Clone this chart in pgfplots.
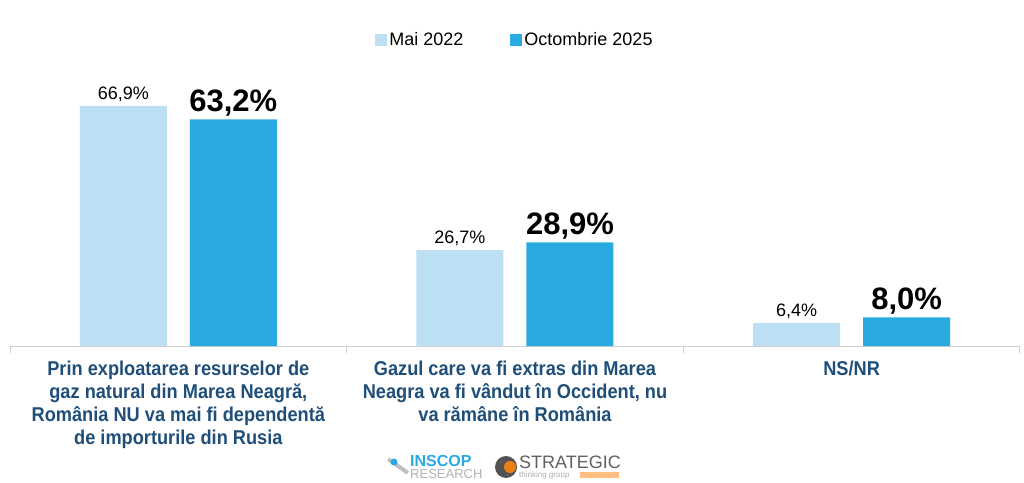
\documentclass[border=0pt]{standalone}
\usepackage{pgfplots}
\pgfplotsset{compat=1.18}
\usepackage{fontspec}
\setmainfont{Liberation Sans}
\newfontfamily\narrowbf[FakeStretch=0.91]{Liberation Sans Bold}
\definecolor{lightbar}{HTML}{BDDFF3}
\definecolor{darkbar}{HTML}{29ABE2}
\definecolor{labblue}{HTML}{1F4E79}
\definecolor{axgray}{HTML}{D0D0D0}
\tikzset{catlabel/.style={anchor=north, align=center, text=labblue, yshift=-11pt,
    font=\narrowbf\fontsize{20}{23}\selectfont}}
\begin{document}
\begin{tikzpicture}
\path[use as bounding box] (0,0) rectangle (1024pt,482pt);
\begin{axis}[
  at={(10pt,136pt)}, anchor=south west,
  scale only axis, width=1010pt, height=287pt,
  ybar=23pt, bar width=87pt,
  ymin=0, ymax=80, xmin=-0.5, xmax=2.5,
  axis y line=none,
  axis x line*=bottom,
  x axis line style={axgray, line width=1pt, -},
  xtick=data,
  xticklabels={},
  major tick length=0pt,
  extra x ticks={-0.5,0.5,1.5,2.5},
  extra x tick labels={},
  extra x tick style={major tick length=7pt, tick style={axgray, line width=1pt}, tick align=outside},
  legend style={at={(0.5,1)}, anchor=south, yshift=8pt, draw=none, fill=none,
    legend columns=2, font=\fontsize{18}{20}\selectfont,
    /tikz/every even column/.append style={column sep=45pt}},
  legend image code/.code={\fill[#1] (0pt,-6pt) rectangle (12pt,6pt);},
  /pgf/number format/assume math mode=true,
  nodes near coords={\pgfmathprintnumber[fixed,fixed zerofill,precision=1,use comma]{\pgfplotspointmeta}\%},
  clip=false,
]
\addplot[fill=lightbar, draw=none,
  every node near coord/.append style={font=\fontsize{18}{20}\selectfont, text=black, yshift=1pt}]
  coordinates {(0,66.9) (1,26.7) (2,6.4)};
\addplot[fill=darkbar, draw=none,
  every node near coord/.append style={font=\bfseries\fontsize{31}{33}\selectfont, text=black, yshift=-1pt}]
  coordinates {(0,63.2) (1,28.9) (2,8.0)};
\legend{Mai 2022, Octombrie 2025}
\node[catlabel] at (axis cs:0,0) {Prin exploatarea resurselor de\\gaz natural din Marea Neagră,\\România NU va mai fi dependentă\\de importurile din Rusia};
\node[catlabel] at (axis cs:1,0) {Gazul care va fi extras din Marea\\Neagra va fi vândut în Occident, nu\\va rămâne în România};
\node[catlabel] at (axis cs:2,0) {NS/NR};
\end{axis}
% logos (decorative)
\fill[gray!50, rotate around={-35:(398pt,16pt)}] (386pt,14pt) rectangle (410pt,18pt);
\fill[darkbar] (394pt,20pt) circle (3.5pt);
\node[anchor=west, inner sep=0pt, text=darkbar, font=\bfseries\fontsize{16}{16}\selectfont] at (410pt,21pt) {INSCOP};
\node[anchor=west, inner sep=0pt, text=gray!60, font=\fontsize{13}{13}\selectfont] at (410pt,8pt) {RESEARCH};
\fill[gray!65!black] (506pt,15pt) circle (11pt);
\fill[orange!70!brown] (510pt,15pt) circle (6pt);
\node[anchor=west, inner sep=0pt, text=gray!75!black, font=\fontsize{18}{18}\selectfont] at (519pt,20pt) {STRATEGIC};
\node[anchor=west, inner sep=0pt, text=gray!65, font=\fontsize{8}{8}\selectfont] at (519pt,7pt) {thinking group};
\fill[orange!50] (580pt,4pt) rectangle (619pt,10pt);
\end{tikzpicture}
\end{document}
